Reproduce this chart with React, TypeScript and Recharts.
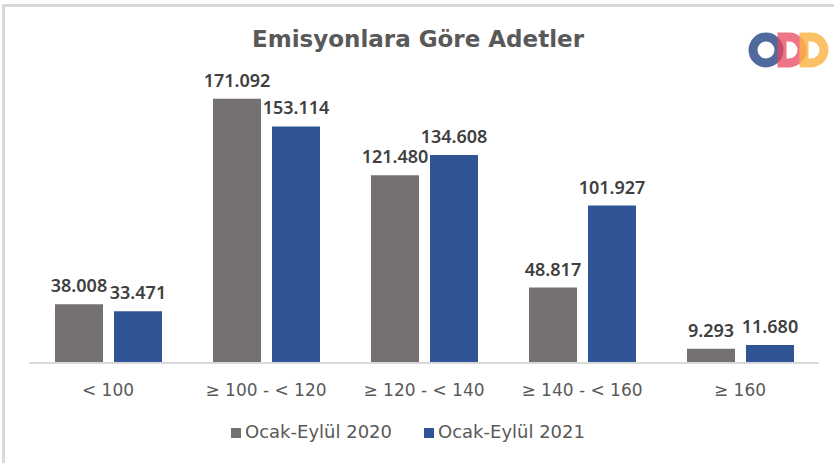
import React from 'react';
import { BarChart, Bar, XAxis, YAxis, Legend, LabelList } from 'recharts';

const categories = ['< 100', '≥ 100 - < 120', '≥ 120 - < 140', '≥ 140 - < 160', '≥  160'];
const series2020 = [38008, 171092, 121480, 48817, 9293];
const series2021 = [33471, 153114, 134608, 101927, 11680];
const seriesNames = ['Ocak-Eylül 2020', 'Ocak-Eylül 2021'];
const title = 'Emisyonlara Göre Adetler';

const data = categories.map((c, i) => ({ name: c, a: series2020[i], b: series2021[i] }));

const FONT = '"DejaVu Sans", "Noto Sans", sans-serif';
const LFONT = '"Noto Sans", "Open Sans", sans-serif';
const fmt = (v: number) => v.toLocaleString('de-DE');

function Logo() {
  return (
    <svg width={90} height={50} style={{ position: 'absolute', left: 745, top: 25 }}>
      <circle cx={21} cy={25} r={13} fill="none" stroke="#3E5A93" strokeWidth={9} opacity={0.9} />
      <path d="M 37 12 L 44 12 A 13 13 0 0 1 44 38 L 37 38 Z" fill="none" stroke="#E8455F" strokeWidth={9} opacity={0.75} />
      <path d="M 59 12 L 66 12 A 13 13 0 0 1 66 38 L 59 38 Z" fill="none" stroke="#FBB040" strokeWidth={9} opacity={0.8} />
    </svg>
  );
}

const labelStyle = { fill: '#404040', fontSize: 18, fontWeight: 600, fontFamily: LFONT };

export default function App() {
  return (
    <div style={{ position: 'absolute', left: 0, top: 0, width: 834, height: 463, background: '#fff', fontFamily: FONT }}>
      <div style={{ position: 'absolute', left: 2, top: 4, width: 832, height: 459, borderLeft: '3px solid #d9d9d9', borderTop: '3px solid #d9d9d9' }} />
      <div style={{ position: 'absolute', left: 0, top: 26, width: 836, textAlign: 'center', fontSize: 23, fontWeight: 700, color: '#595959' }}>{title}</div>
      <Logo />
      <div style={{ position: 'absolute', left: 0, top: 0 }}>
        <BarChart width={834} height={463} data={data} margin={{ top: 54, right: 15, left: 29, bottom: 8 }} barSize={48} barGap={11}>
          <XAxis dataKey="name" axisLine={{ stroke: '#d9d9d9', strokeWidth: 2 }} tickLine={false} height={58} tick={{ fill: '#595959', fontSize: 17, fontFamily: FONT }} tickMargin={15} interval={0} />
          <YAxis hide domain={[0, 200000]} />
          <Legend verticalAlign="bottom" height={34} iconType="square" iconSize={10} wrapperStyle={{ fontSize: 18, fontFamily: FONT, color: '#595959' }}
            formatter={(v: string) => <span style={{ color: '#595959', marginRight: 22 }}>{v}</span>} />
          <Bar dataKey="a" name={seriesNames[0]} fill="#767171" isAnimationActive={false}>
            <LabelList dataKey="a" position="top" offset={12} formatter={fmt} style={labelStyle} />
          </Bar>
          <Bar dataKey="b" name={seriesNames[1]} fill="#2F5597" isAnimationActive={false}>
            <LabelList dataKey="b" position="top" offset={12} formatter={fmt} style={labelStyle} />
          </Bar>
        </BarChart>
      </div>
    </div>
  );
}
